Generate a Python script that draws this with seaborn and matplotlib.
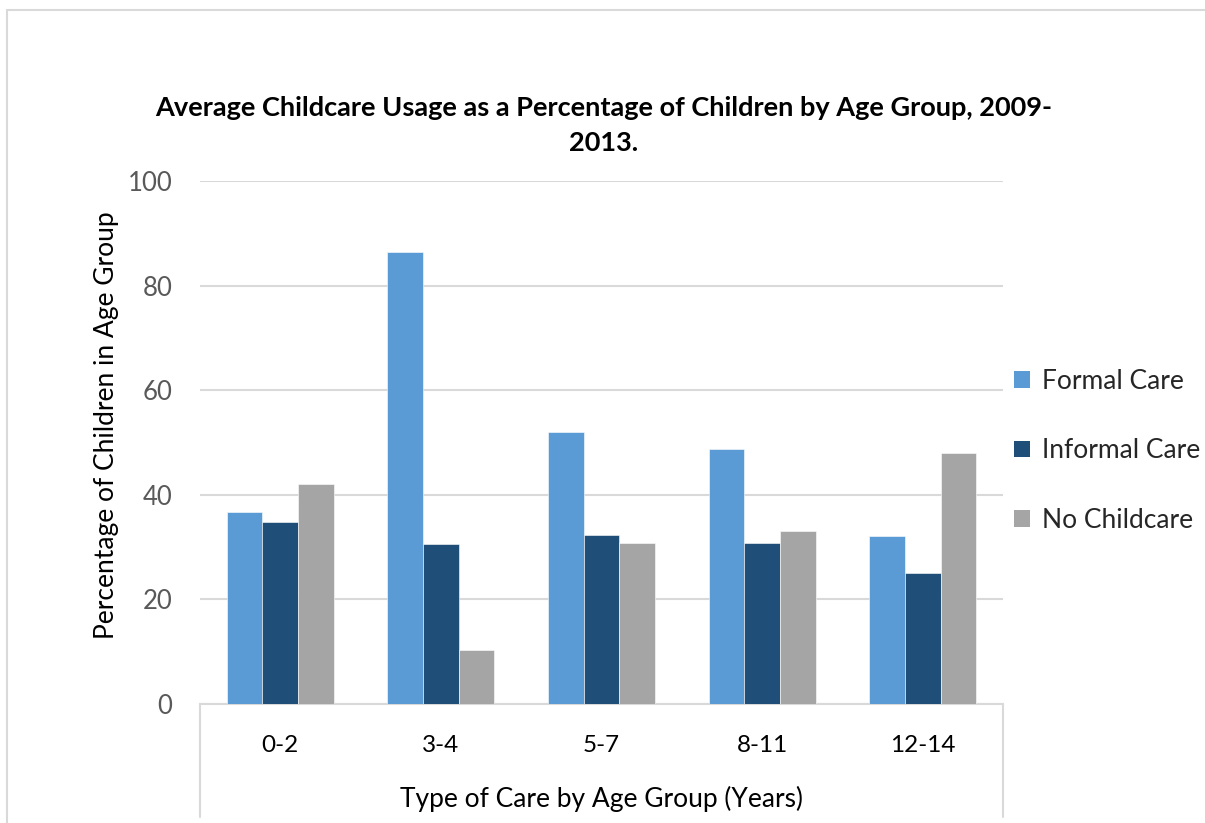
import matplotlib
matplotlib.use("Agg")
import matplotlib.pyplot as plt
import seaborn as sns
import pandas as pd
from matplotlib.patches import Rectangle
from matplotlib.lines import Line2D

age_groups = ["0-2", "3-4", "5-7", "8-11", "12-14"]
care_types = ["Formal Care", "Informal Care", "No Childcare"]
formal_care = [36.8, 86.4, 52.1, 48.8, 32.1]
informal_care = [34.8, 30.6, 32.3, 30.8, 25.1]
no_childcare = [42.1, 10.3, 30.8, 33.1, 47.9]
y_ticks = [0, 20, 40, 60, 80, 100]

colors = ["#5B9BD5", "#1F4E79", "#A5A5A5"]

df = pd.DataFrame({
    "Age": age_groups * 3,
    "Care": [c for c in care_types for _ in age_groups],
    "Value": formal_care + informal_care + no_childcare,
})

sns.set_theme(style="white")
plt.rcParams["font.family"] = ["Lato", "DejaVu Sans"]

W, H = 1205, 823
fig = plt.figure(figsize=(W / 100, H / 100), dpi=100)
ax = fig.add_axes([200 / W, 1 - 704 / H, (1003 - 200) / W, (704 - 181) / H])

sns.barplot(data=df, x="Age", y="Value", hue="Care", order=age_groups,
            hue_order=care_types, palette=colors, width=0.667, gap=0,
            saturation=1, edgecolor="white", linewidth=0.4, ax=ax, legend=False,
            zorder=3)

ax.set_ylim(0, 100)
ax.set_xlim(-0.5, len(age_groups) - 0.5)
ax.set_yticks(y_ticks)
ax.yaxis.grid(True, color="#D9D9D9", linewidth=1.5, zorder=0)
ax.set_axisbelow(True)
for side in ["top", "right", "left"]:
    ax.spines[side].set_visible(False)
ax.spines["bottom"].set_color("#D9D9D9")
ax.spines["bottom"].set_linewidth(1.5)
ax.tick_params(axis="y", length=0, labelsize=18.5, labelcolor="#595959", pad=20)
ax.tick_params(axis="x", length=0, labelsize=17.5, labelcolor="#000000", pad=22)

ax.set_xlabel("Type of Care by Age Group (Years)", fontsize=19, color="#000000", labelpad=22)
ax.set_ylabel("Percentage of Children in Age Group", fontsize=19, color="#000000", labelpad=6)
ax.yaxis.label.set_y(0.533)

# category axis frame extending below the plot
for xa in (0, 1):
    ax.add_line(Line2D([xa, xa], [0, -0.216], transform=ax.transAxes,
                       color="#D9D9D9", linewidth=1.5, clip_on=False))

fig.text(604 / W, 1 - 108 / H,
         "Average Childcare Usage as a Percentage of Children by Age Group, 2009-",
         ha="center", va="center", fontsize=19.5, fontweight="bold", color="#000000")
fig.text(604 / W, 1 - 143 / H, "2013.",
         ha="center", va="center", fontsize=19.5, fontweight="bold", color="#000000")

handles = [Rectangle((0, 0), 1, 1, facecolor=c, edgecolor="none") for c in colors]
fig.legend(handles, care_types, loc="upper left", bbox_to_anchor=(1014 / W, 1 - 369 / H),
           frameon=False, fontsize=19, handlelength=0.6, handleheight=0.6,
           handletextpad=0.45, labelspacing=1.68, borderaxespad=0, borderpad=0)

fig.patches.append(Rectangle((7 / W, -0.05), 1.2, 1 - 10 / H + 0.05,
                             transform=fig.transFigure, fill=False,
                             edgecolor="#D9D9D9", linewidth=1.5))

fig.savefig("out.png", dpi=100, facecolor="white")
